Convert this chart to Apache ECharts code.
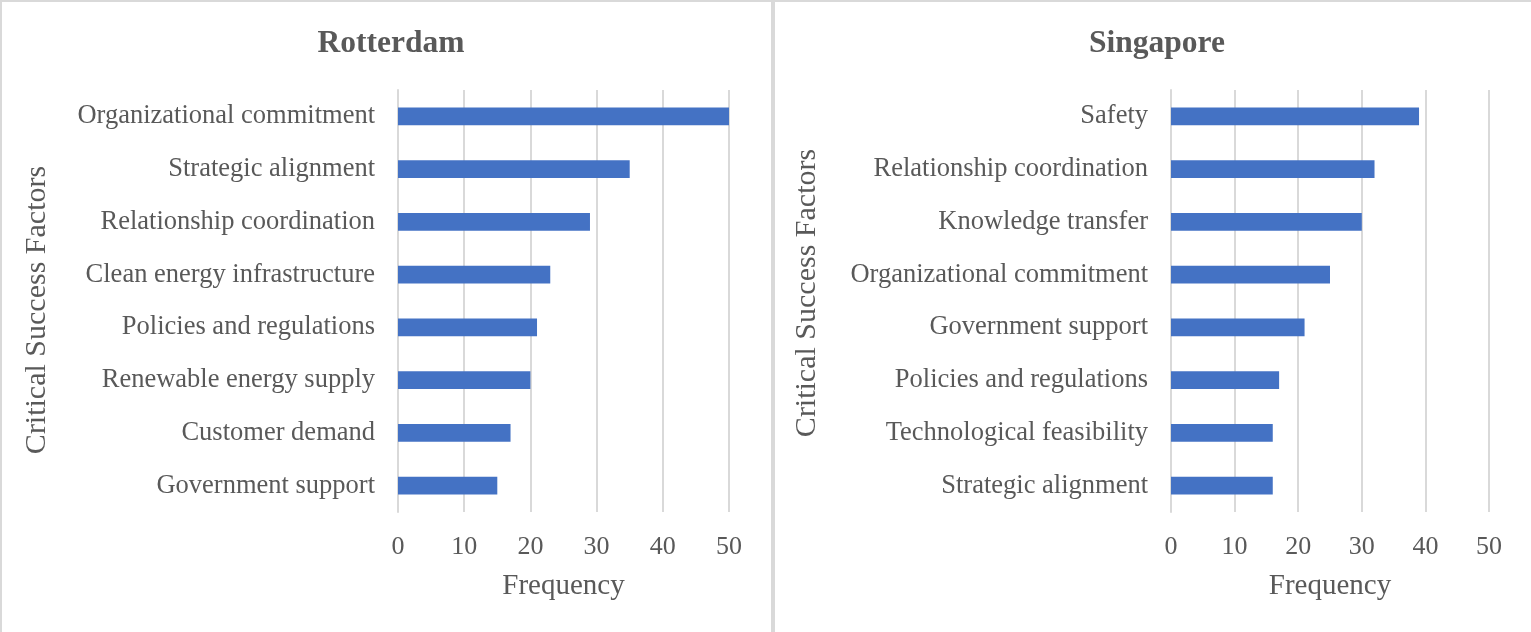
<!DOCTYPE html>
<html><head><meta charset="utf-8">
<script src="https://cdn.jsdelivr.net/npm/echarts@6/dist/echarts.min.js"></script>
<style>html,body{margin:0;padding:0;background:#fff}#c{width:1531px;height:632px}</style>
</head><body><div id="c"></div>
<script>
const rotterdamCategories = ["Organizational commitment","Strategic alignment","Relationship coordination","Clean energy infrastructure","Policies and regulations","Renewable energy supply","Customer demand","Government support"];
const rotterdamValues = [50,35,29,23,21,20,17,15];
const singaporeCategories = ["Safety","Relationship coordination","Knowledge transfer","Organizational commitment","Government support","Policies and regulations","Technological feasibility","Strategic alignment"];
const singaporeValues = [39,32,30,25,21,17,16,16];
const titles = ["Rotterdam","Singapore"];
const xAxisName = "Frequency";
const yAxisName = "Critical Success Factors";

const FONT = '"Liberation Serif","Times New Roman",serif';
const TXT = '#595959';
const chart = echarts.init(document.getElementById('c'), null, {renderer:'canvas'});

function xAx(idx){
  return {gridIndex:idx, type:'value', min:0, max:50, interval:10,
    axisLine:{show:false}, axisTick:{show:false},
    axisLabel:{color:TXT, fontFamily:FONT, fontSize:26, margin:22},
    splitLine:{show:true, lineStyle:{color:'#d9d9d9', width:2}},
    name:xAxisName, nameLocation:'middle', nameGap:60,
    nameTextStyle:{color:TXT, fontFamily:FONT, fontSize:29}};
}
function yAx(idx, cats){
  return {gridIndex:idx, type:'category', inverse:true, data:cats,
    axisLine:{show:true, lineStyle:{color:'#d9d9d9', width:2}}, axisTick:{show:false},
    axisLabel:{color:TXT, fontFamily:FONT, fontSize:26.5, margin:23, padding:[4,0,0,0]},
    splitLine:{show:false}};
}
chart.setOption({
  animation:false,
  title:[
    {text:titles[0], left:386, top:23, textAlign:'center', textStyle:{fontFamily:FONT, fontSize:31.5, fontWeight:'bold', color:TXT}},
    {text:titles[1], left:1152, top:23, textAlign:'center', textStyle:{fontFamily:FONT, fontSize:31.5, fontWeight:'bold', color:TXT}}
  ],
  grid:[
    {left:398, width:331, top:90, height:422},
    {left:1171, width:318, top:90, height:422}
  ],
  xAxis:[xAx(0), xAx(1)],
  yAxis:[yAx(0, rotterdamCategories), yAx(1, singaporeCategories)],
  series:[
    {type:'bar', xAxisIndex:0, yAxisIndex:0, data:rotterdamValues, barWidth:'34%', itemStyle:{color:'#4472C4'}},
    {type:'bar', xAxisIndex:1, yAxisIndex:1, data:singaporeValues, barWidth:'34%', itemStyle:{color:'#4472C4'}}
  ],
  graphic:[
    {type:'rect', shape:{x:1, y:1, width:771, height:640}, style:{fill:'none', stroke:'#d9d9d9', lineWidth:2}, silent:true},
    {type:'rect', shape:{x:774, y:1, width:760, height:640}, style:{fill:'none', stroke:'#d9d9d9', lineWidth:2}, silent:true},
    {type:'text', x:37, y:310, rotation:Math.PI/2, style:{text:yAxisName, fill:TXT, font:'30px '+FONT, align:'center', verticalAlign:'middle'}},
    {type:'text', x:807, y:293, rotation:Math.PI/2, style:{text:yAxisName, fill:TXT, font:'30px '+FONT, align:'center', verticalAlign:'middle'}}
  ]
});
</script></body></html>
